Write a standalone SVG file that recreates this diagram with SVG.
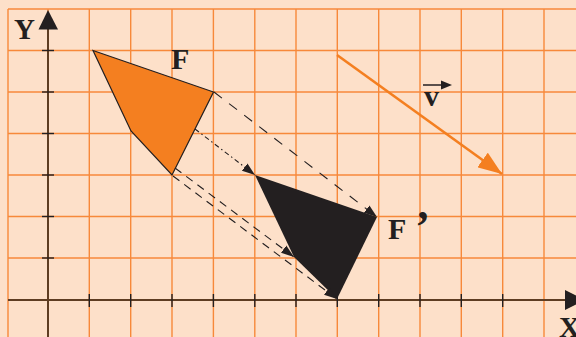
<svg xmlns="http://www.w3.org/2000/svg" width="576" height="337" viewBox="0 0 576 337">
<defs>
<style>
.grid line{stroke:#f7893a;stroke-width:1.4}
.axis{stroke:#5e3d22;stroke-width:2;fill:none}
.tick{stroke:#231f20;stroke-width:1.4}
.lbl{font-family:"Liberation Serif","Times New Roman",serif;font-weight:bold;fill:#231f20}
.conn{stroke:#231f20;stroke-width:1.1;fill:none}
</style>
<marker id="ah" markerUnits="userSpaceOnUse" markerWidth="13" markerHeight="10" refX="13" refY="5" orient="auto">
<path d="M0,0.5 L13,5 L0,9.5 z" fill="#231f20"/>
</marker>
<marker id="ahO" markerUnits="userSpaceOnUse" markerWidth="24" markerHeight="18" refX="24" refY="9" orient="auto">
<path d="M0,0 L24,9 L0,18 z" fill="#f47f20"/>
</marker>
</defs>
<rect x="0" y="0" width="576" height="337" fill="#fde0c9"/>
<g id="grid" class="grid">
<line x1="8" y1="9" x2="8" y2="337"/>
<line x1="48" y1="9" x2="48" y2="337"/>
<line x1="89.3" y1="9" x2="89.3" y2="337"/>
<line x1="130.7" y1="9" x2="130.7" y2="337"/>
<line x1="172" y1="9" x2="172" y2="337"/>
<line x1="213.4" y1="9" x2="213.4" y2="337"/>
<line x1="254.8" y1="9" x2="254.8" y2="337"/>
<line x1="296" y1="9" x2="296" y2="337"/>
<line x1="337.3" y1="9" x2="337.3" y2="337"/>
<line x1="378.7" y1="9" x2="378.7" y2="337"/>
<line x1="420" y1="9" x2="420" y2="337"/>
<line x1="461.3" y1="9" x2="461.3" y2="337"/>
<line x1="502.7" y1="9" x2="502.7" y2="337"/>
<line x1="544" y1="9" x2="544" y2="337"/>
<line x1="8" y1="9" x2="576" y2="9"/>
<line x1="8" y1="50.5" x2="576" y2="50.5"/>
<line x1="8" y1="92" x2="576" y2="92"/>
<line x1="8" y1="133.5" x2="576" y2="133.5"/>
<line x1="8" y1="175" x2="576" y2="175"/>
<line x1="8" y1="216.5" x2="576" y2="216.5"/>
<line x1="8" y1="258" x2="576" y2="258"/>
</g>
<g id="axes">
<line class="axis" x1="48" y1="337" x2="48" y2="28"/>
<polygon points="48,10 38.5,29.5 58,29.5" fill="#231f20"/>
<line class="axis" x1="8" y1="300" x2="566" y2="300"/>
<polygon points="565,290 565,310 585,300" fill="#231f20"/>
<g class="tick">
<line x1="42" y1="50.5" x2="54" y2="50.5"/>
<line x1="42" y1="92" x2="54" y2="92"/>
<line x1="42" y1="133.5" x2="54" y2="133.5"/>
<line x1="42" y1="175" x2="54" y2="175"/>
<line x1="42" y1="216.5" x2="54" y2="216.5"/>
<line x1="42" y1="258" x2="54" y2="258"/>
<line x1="89.3" y1="294" x2="89.3" y2="307"/>
<line x1="130.7" y1="294" x2="130.7" y2="307"/>
<line x1="172" y1="294" x2="172" y2="307"/>
<line x1="213.4" y1="294" x2="213.4" y2="307"/>
<line x1="254.8" y1="294" x2="254.8" y2="307"/>
<line x1="296" y1="294" x2="296" y2="307"/>
<line x1="337.3" y1="294" x2="337.3" y2="307"/>
<line x1="378.7" y1="294" x2="378.7" y2="307"/>
<line x1="420" y1="294" x2="420" y2="307"/>
<line x1="461.3" y1="294" x2="461.3" y2="307"/>
<line x1="502.7" y1="294" x2="502.7" y2="307"/>
</g>
<text class="lbl" x="14" y="39" font-size="29">Y</text>
<text class="lbl" x="559" y="337" font-size="29">X</text>
</g>
<g id="F">
<polygon points="93,50.5 213.5,92 172,175 131,131" fill="#f47f20" stroke="#231f20" stroke-width="1.2" stroke-linejoin="miter"/>
<text class="lbl" x="171" y="69" font-size="30">F</text>
</g>
<g id="F-prime">
<polygon points="255,175 377,217 337,299 294,257" fill="#231f20"/>
<text class="lbl" x="388" y="239" font-size="30">F<tspan dx="9" dy="2" font-size="44">’</tspan></text>
</g>
<g id="v">
<line x1="337" y1="55" x2="502" y2="174" stroke="#f47f20" stroke-width="2.6" marker-end="url(#ahO)"/>
<text class="lbl" x="424" y="106" font-size="30">v</text>
<line x1="423" y1="85" x2="443" y2="85" stroke="#231f20" stroke-width="1.5"/>
<polygon points="441,80.5 452,85 441,89.5" fill="#231f20"/>
</g>
<g id="connectors">
<line class="conn" x1="214" y1="92" x2="377" y2="217" stroke-dasharray="10 9" marker-end="url(#ah)"/>
<line class="conn" x1="195" y1="129" x2="255" y2="175" stroke-dasharray="5 3 1.5 3" marker-end="url(#ah)"/>
<line class="conn" x1="175" y1="168" x2="294" y2="257" stroke-dasharray="8 6" marker-end="url(#ah)"/>
<line class="conn" x1="173" y1="176" x2="337" y2="299" stroke-dasharray="8 6" marker-end="url(#ah)"/>
</g>
</svg>
